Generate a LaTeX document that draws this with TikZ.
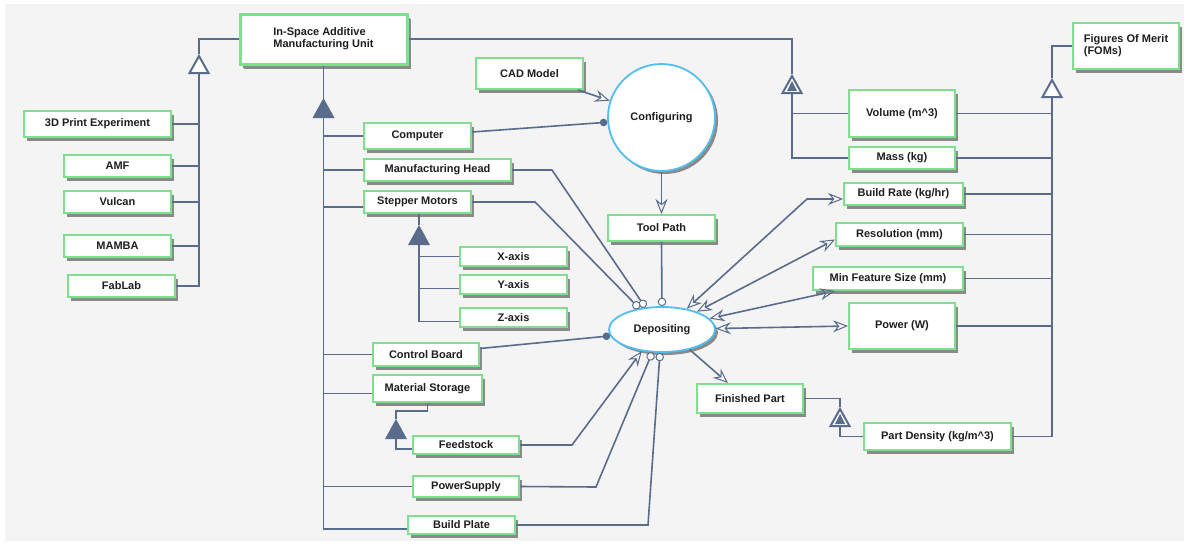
\documentclass[tikz,border=0pt]{standalone}
\usepackage{fontspec}
\setmainfont{Liberation Sans}
\usetikzlibrary{arrows.meta,shapes.geometric,shadows}

\definecolor{bgc}{HTML}{F4F4F4}
\definecolor{objc}{HTML}{7EE08C}
\definecolor{procc}{HTML}{52BEF2}
\definecolor{linkc}{HTML}{5A6C8C}
\definecolor{shadc}{HTML}{8A8A8A}
\definecolor{txtc}{HTML}{1E1E1E}

\tikzset{
  objbox/.style={rectangle, draw=objc, line width=2pt, fill=white, inner sep=0pt,
    text=txtc, font=\fontsize{11}{12}\selectfont\bfseries,
    drop shadow={shadow xshift=3pt, shadow yshift=-4pt, fill=shadc, opacity=1}},
  procbox/.style={draw=procc, line width=1.8pt, fill=white, inner sep=0pt,
    text=txtc, font=\fontsize{11}{12}\selectfont\bfseries,
    drop shadow={shadow xshift=3pt, shadow yshift=-3pt, fill=shadc, opacity=1}},
  link/.style={draw=linkc, line width=1.6pt},
  openhead/.tip={Stealth[open, length=15pt, width=12pt, inset=5pt, line width=1pt]},
  arr/.style={link, -openhead},
  eff/.style={link, openhead-openhead},
  agent/.style={link, -{Circle[length=7.5pt]}},
  instr/.style={link, -{Circle[length=8.5pt, fill=white, line width=1pt]}},
}

% object box from its outer corners (x1,y1)-(x2,y2)
\newcommand\objnode[7][]{%
  \node[objbox,#1,minimum width={(#5-#3-2)*1pt},minimum height={(#6-#4-2)*1pt}]
    (#2) at ({(#3+#5)/2},{(#4+#6)/2}) {#7};}
% structural link marks, apex at the given coordinate
\newcommand\aggmark[1]{\fill[linkc] (#1) -- ++(-11,20) -- ++(22,0) -- cycle;}
\newcommand\genmark[1]{\draw[linkc, fill=white, line width=2pt] (#1) ++(0,2) -- ++(-9.5,17) -- ++(19,0) -- cycle;}
\newcommand\exhmark[1]{\genmark{#1}\fill[linkc] (#1) ++(0,7) -- ++(-5,10) -- ++(10,0) -- cycle;}

\begin{document}
\begin{tikzpicture}[x=1pt,y=-1pt]
\useasboundingbox (0,0) rectangle (1184,544);
\fill[white] (0,0) rectangle (1184,544);
\fill[bgc] (5,4) rectangle (1184,541);

% ---- objects ----
\objnode[line width=3pt, align=left, drop shadow={shadow xshift=4pt, shadow yshift=-5pt, fill=shadc, opacity=1}]{ins}{239}{13}{408}{65}{In-Space Additive\\Manufacturing Unit}
\objnode{p3d}{23}{110}{172}{138}{3D Print Experiment}
\objnode{amf}{63}{154}{172}{178}{AMF}
\objnode{vul}{63}{190}{172}{214}{Vulcan}
\objnode{mam}{63}{234}{172}{258}{MAMBA}
\objnode{fab}{67}{274}{176}{298}{FabLab}
\objnode{cad}{475}{57}{584}{90}{CAD Model}
\objnode{comp}{363}{122}{472}{150}{Computer}
\objnode{mh}{363}{158}{512}{182}{Manufacturing Head}
\objnode{sm}{363}{190}{472}{214}{Stepper Motors}
\objnode{tp}{607}{214}{716}{242}{Tool Path}
\objnode{xax}{459}{246}{568}{267}{X-axis}
\objnode{yax}{459}{274}{568}{295}{Y-axis}
\objnode{zax}{459}{307}{568}{328}{Z-axis}
\objnode{cb}{372}{342}{480}{367}{Control Board}
\objnode{ms}{372}{374}{483}{403}{Material Storage}
\objnode{fs}{412}{435}{520}{455}{Feedstock}
\objnode{ps}{412}{475}{520}{498}{PowerSupply}
\objnode{bp}{407}{515}{516}{535}{Build Plate}
\objnode{vol}{848}{89}{956}{138}{Volume (m\^{}3)}
\objnode{mass}{848}{146}{956}{170}{Mass (kg)}
\objnode{br}{843}{182}{964}{206}{Build Rate (kg/hr)}
\objnode{res}{835}{222}{964}{247}{Resolution (mm)}
\objnode{mfs}{812}{266}{964}{291}{Min Feature Size (mm)}
\objnode{pow}{848}{302}{956}{350}{Power (W)}
\objnode{fin}{696}{383}{804}{414}{Finished Part}
\objnode{pd}{863}{422}{1012}{451}{Part Density (kg/m\^{}3)}
\objnode[align=left]{fom}{1072}{22}{1180}{70}{Figures Of Merit\\(FOMs)}

% ---- processes ----
\node[procbox, circle, minimum size=107pt] (conf) at (661.5,117.5) {Configuring};
\node[procbox, ellipse, minimum width=106pt, minimum height=45pt] (dep) at (662,329.5) {Depositing};

% ---- structural links ----
% generalisation of the unit
\coordinate (g1) at (199,54);
\draw[link] (ins.west) -| (g1);
\draw[link] (199,72) |- (fab.east);
\foreach \n in {p3d,amf,vul,mam} \draw[link] (\n.east) -- (\n.east -| g1);

% aggregation of the unit
\coordinate (a1) at (323.5,98);
\coordinate (bpj) at ([yshift=-4pt]bp.west);
\coordinate (smj) at ([yshift=-5pt]sm.west);
\coordinate (msj) at ([yshift=-5pt]ms.west);
\draw[link] (ins.south) -- (a1);
\draw[link] (323.5,116) |- (bpj);
\foreach \n in {comp.west,mh.west,smj,cb.west,msj,ps.west} \draw[link] (\n) -- (\n -| a1);

% aggregation of the stepper motors
\coordinate (a2) at (419,225);
\coordinate (yj) at ([yshift=-4pt]yax.west);
\coordinate (zj) at ([yshift=-4pt]zax.west);
\draw[link] (sm.south -| a2) -- (a2);
\draw[link] (419,243) |- (zj);
\foreach \n in {xax.west,yj} \draw[link] (\n) -- (\n -| a2);

% aggregation of the material storage
\coordinate (a3) at (396,419);
\coordinate (fj) at ([yshift=-4pt]fs.west);
\draw[link] (ms.south) -- ++(0,8) -| (a3);
\draw[link] (396,437) |- (fj);

% exhibition: unit -> volume, mass
\coordinate (e1) at (792,74);
\draw[link] (ins.east) -| (e1);
\draw[link] (792,92) |- (mass.west);
\draw[link] (vol.west) -- (vol.west -| e1);

% generalisation of the figures of merit
\coordinate (g2) at (1052,78);
\draw[link] (fom.west) -| (g2);
\draw[link] (1052,96) |- (pd.east);
\foreach \n in {vol,mass,br,res,mfs,pow} \draw[link] (\n.east) -- (\n.east -| g2);

% exhibition: finished part -> part density
\coordinate (e2) at (840,407);
\draw[link] (fin.east) -| (e2);
\draw[link] (840,425) |- (pd.west);

\genmark{g1}
\aggmark{a1}
\aggmark{a2}
\aggmark{a3}
\exhmark{e1}
\genmark{g2}
\exhmark{e2}

% ---- procedural links ----
\draw[arr] ([xshift=-6pt]cad.south east) -- (conf.162);
\draw[agent] ([yshift=4pt]comp.east) -- (conf.185);
\draw[arr] (conf.south) -- (tp.north);
\draw[instr] (tp.south) -- (dep.90);
\draw[instr] (mh.east) -- (552,170) -- (dep.127);
\draw[instr] (sm.east) -- (535,202) -- (dep.137);
\draw[agent] ([yshift=6pt]cb.east) -- (dep.187);
\draw[arr] (fs.east) -- (572,445) -- (dep.227);
\draw[instr] (ps.east) -- (596,487) -- (dep.247);
\draw[instr] (bp.east) -- (648,525) -- (dep.265);
\draw[arr] (dep.324) -- ([xshift=32pt]fin.north west);
\draw[eff] (dep.40) -- (807,199) -- (br.west |- 0,199);
\draw[eff] (dep.27) -- ([yshift=-5pt]res.west);
\draw[eff] (dep.13) -- ([xshift=23pt]mfs.south west);
\draw[eff] (dep.1) -- (pow.west);
\end{tikzpicture}
\end{document}
